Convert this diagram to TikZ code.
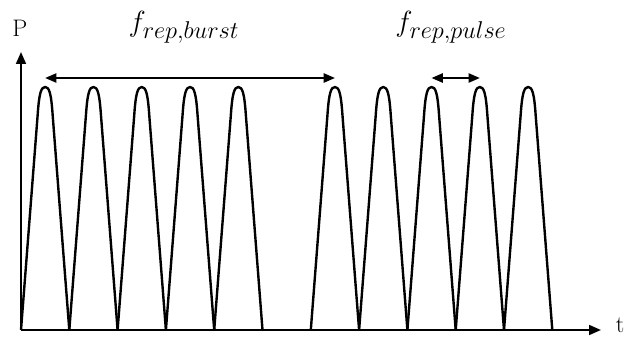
\documentclass[tikz,border=0pt]{standalone}
\usetikzlibrary{arrows.meta}
\DeclareMathSizes{22}{22}{17}{13}

\begin{document}
\begin{tikzpicture}[x=0.025cm, y=-0.025cm,
  axis/.style={line width=1.5pt, -{Triangle[length=8.5pt, width=7pt]}},
  pulse/.style={line width=1.7pt, line join=round},
  span/.style={line width=1.4pt, {Triangle[length=8pt, width=6.5pt]}-{Triangle[length=8pt, width=6.5pt]}},
  axlabel/.style={font=\fontsize{17}{19}\selectfont, inner sep=0pt},
  freqlabel/.style={font=\fontsize{22}{26}\selectfont, inner sep=0pt}]

  % Frame of the picture
  \useasboundingbox (0,0) rectangle (636,336);

  % Axes
  \coordinate (origin) at (21,330);
  \coordinate (ptip) at (21,52);
  \coordinate (ttip) at (601,330);
  \draw[axis] (origin) -- (ptip);
  \draw[axis] (origin) -- (ttip);
  \node[axlabel] (plabel) at (20,28) {P};
  \node[axlabel] (tlabel) at (620,325) {t};

  % Pulse train: two bursts of five pulses, one slot left empty
  \foreach \n [count=\i] in {0,1,2,3,4,6,7,8,9,10} {
    \pgfmathsetmacro{\cx}{45.15 + 48.3*\n}
    \draw[pulse] (\cx-24.15,330) -- (\cx-7.5,115)
      .. controls (\cx-6,93) and (\cx-4,87) .. (\cx,87)
      .. controls (\cx+4,87) and (\cx+6,93) .. (\cx+7.5,115)
      -- (\cx+24.15,330);
    \coordinate (peak\i) at (\cx,87);
    \coordinate (top\i) at (\cx,78);
  }

  % Repetition intervals
  \draw[span] (top1) -- (top6);
  \draw[span] (top8) -- (top9);
  \node[freqlabel] (burst) at (184,27) {$f_{rep,burst}$};
  \node[freqlabel] (pulse) at (451,27) {$f_{rep,pulse}$};

\end{tikzpicture}
\end{document}
